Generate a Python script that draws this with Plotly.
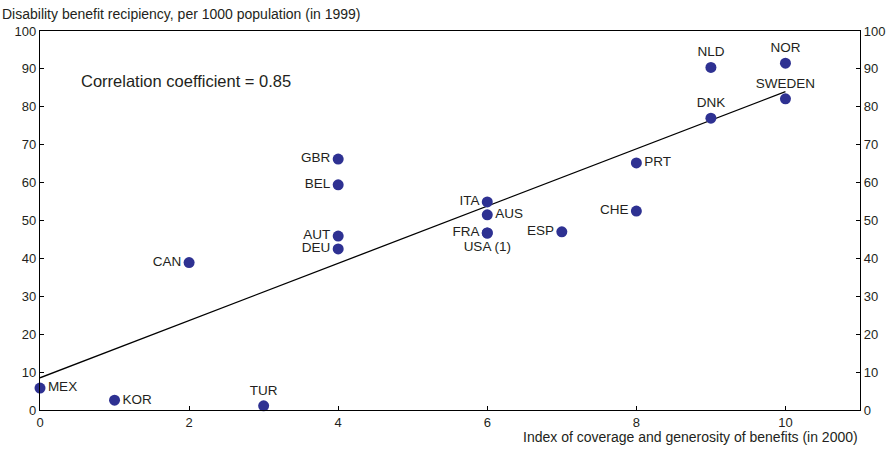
import plotly.graph_objects as go

countries = ["MEX", "KOR", "TUR", "CAN", "GBR", "BEL", "AUT", "DEU", "ITA", "AUS",
             "FRA", "USA (1)", "ESP", "CHE", "PRT", "DNK", "NLD", "NOR", "SWEDEN"]
index_x = [0, 1, 3, 2, 4, 4, 4, 4, 6, 6, 6, 6, 7, 8, 8, 9, 9, 10, 10]
recipiency = [5.8, 2.6, 1.1, 38.9, 66.2, 59.4, 45.9, 42.5, 54.9, 51.5,
              46.7, 46.7, 47.0, 52.5, 65.2, 77.0, 90.4, 91.5, 82.1]
label_pos = ["middle right", "middle right", "top center", "middle left", "middle left",
             "middle left", "middle left", "middle left", "middle left", "middle right",
             "middle left", "bottom center", "middle left", "middle left", "middle right",
             "top center", "top center", "top center", "top center"]

fit_x = [0, 10]
fit_y = [8.5, 84.0]

x_ticks = [0, 2, 4, 6, 8, 10]
y_ticks = [0, 10, 20, 30, 40, 50, 60, 70, 80, 90, 100]

FONT = "Liberation Sans, Arial, sans-serif"
TXT = "#231f20"

fig = go.Figure()
fig.add_trace(go.Scatter(x=fit_x, y=fit_y, mode="lines",
                         line=dict(color="black", width=1.3), showlegend=False,
                         hoverinfo="skip"))
fig.add_trace(go.Scatter(x=index_x, y=recipiency, mode="markers+text",
                         text=countries, textposition=label_pos,
                         textfont=dict(family=FONT, size=13.5, color=TXT),
                         marker=dict(color="#2e3192", size=11),
                         showlegend=False, cliponaxis=False))
fig.add_trace(go.Scatter(x=[None], y=[None], yaxis="y2", showlegend=False))

fig.update_layout(
    width=893, height=450,
    margin=dict(l=40, r=33, t=31, b=40),
    paper_bgcolor="white", plot_bgcolor="white",
    font=dict(family=FONT, size=13, color=TXT),
    xaxis=dict(range=[0, 11], tickvals=x_ticks, showgrid=False, zeroline=False,
               showline=True, linecolor="black", linewidth=1.3, mirror=True,
               ticks="inside", ticklen=4, tickcolor="black", automargin=False,
               tickfont=dict(family=FONT, size=13, color=TXT)),
    yaxis=dict(range=[0, 100], tickvals=y_ticks, showgrid=False, zeroline=False,
               showline=True, linecolor="black", linewidth=1.3, automargin=False,
               ticks="inside", ticklen=4, tickcolor="black",
               tickfont=dict(family=FONT, size=13, color=TXT)),
    yaxis2=dict(range=[0, 100], tickvals=y_ticks, overlaying="y", side="right",
                showgrid=False, zeroline=False, showline=True, linecolor="black",
                linewidth=1.3, ticks="inside", ticklen=4, tickcolor="black",
                automargin=False,
                tickfont=dict(family=FONT, size=13, color=TXT)),
    annotations=[
        dict(text="Disability benefit recipiency, per 1000 population (in 1999)",
             xref="paper", yref="paper", x=-40/820, y=1.0, yshift=17,
             xanchor="left", yanchor="middle", showarrow=False,
             font=dict(family=FONT, size=14, color=TXT)),
        dict(text="Index of coverage and generosity of benefits (in 2000)",
             xref="paper", yref="paper", x=1.0, y=0, yshift=-27,
             xanchor="right", yanchor="middle", showarrow=False,
             font=dict(family=FONT, size=14, color=TXT)),
        dict(text="Correlation coefficient = 0.85", xref="x", yref="y",
             x=0.52, y=86.8, xanchor="left", yanchor="middle", showarrow=False,
             font=dict(family=FONT, size=16.5, color=TXT)),
    ],
)

fig.write_html("out.html")
